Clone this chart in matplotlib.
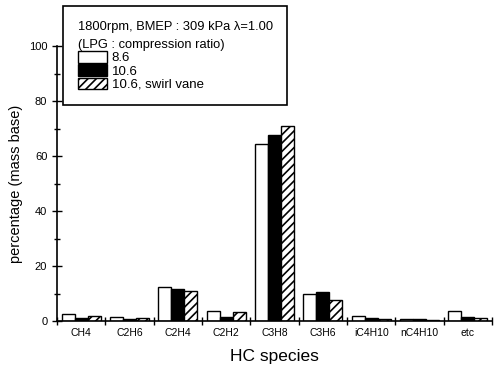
import matplotlib
matplotlib.use("Agg")
import matplotlib.pyplot as plt
import numpy as np
from matplotlib.ticker import MultipleLocator, FixedLocator

plt.rcParams['font.family'] = ['Liberation Sans', 'DejaVu Sans']
plt.rcParams['hatch.linewidth'] = 1.2

species = ["CH4", "C2H6", "C2H4", "C2H2", "C3H8", "C3H6", "iC4H10", "nC4H10", "etc"]
cr_86 = [2.6, 1.3, 12.5, 3.5, 64.5, 9.8, 1.8, 0.8, 3.5]
cr_106 = [1.0, 0.8, 11.8, 1.5, 67.5, 10.5, 1.2, 0.8, 1.5]
cr_106_swirl = [1.8, 1.0, 10.8, 3.2, 71.0, 7.8, 0.8, 0.5, 1.2]
series_labels = ["8.6", "10.6", "10.6, swirl vane"]

fig = plt.figure(figsize=(4.96, 3.72), dpi=100)
ax = fig.add_axes([57/496, 1-321/372, 435/496, 275/372])

x = np.arange(len(species))
w = 0.27
ax.bar(x - w, cr_86, w, facecolor='white', edgecolor='black', linewidth=1.0, label=series_labels[0])
ax.bar(x, cr_106, w, facecolor='black', edgecolor='black', linewidth=1.0, label=series_labels[1])
ax.bar(x + w, cr_106_swirl, w, facecolor='white', edgecolor='black', hatch='////', linewidth=1.0, label=series_labels[2])

ax.set_xlim(-0.5, len(species) - 0.5)
ax.set_ylim(0, 100)
ax.spines['top'].set_visible(False)
ax.spines['right'].set_visible(False)
ax.spines['left'].set_linewidth(1.2)
ax.spines['bottom'].set_linewidth(1.2)

ax.yaxis.set_major_locator(MultipleLocator(20))
ax.yaxis.set_minor_locator(MultipleLocator(10))
ax.tick_params(axis='y', which='major', direction='inout', length=7, width=1, labelsize=8)
ax.tick_params(axis='y', which='minor', direction='inout', length=5, width=1)

ax.set_xticks(x)
ax.set_xticklabels(species)
ax.xaxis.set_minor_locator(FixedLocator(np.arange(-0.5, len(species), 1.0)))
ax.tick_params(axis='x', which='major', length=0, labelsize=7.5, pad=5)
ax.tick_params(axis='x', which='minor', direction='inout', length=6, width=1)

ax.set_ylabel("percentage (mass base)", fontsize=10.5, labelpad=4)
ax.set_xlabel("HC species", fontsize=12.5, labelpad=8)

leg = ax.legend(title="1800rpm, BMEP : 309 kPa λ=1.00\n(LPG : compression ratio)",
                loc='upper left', bbox_to_anchor=(63/496, 1-6/372), bbox_transform=fig.transFigure,
                borderaxespad=0,
                fontsize=9.5, title_fontsize=9.3, frameon=True, fancybox=False,
                edgecolor='black', framealpha=1, handlelength=2.2, handleheight=0.95,
                labelspacing=0.0, borderpad=1.1, handletextpad=0.4, alignment='left')
leg.get_title().set_linespacing(1.75)
leg.get_frame().set_linewidth(1.2)

fig.savefig("out.png", dpi=100)
